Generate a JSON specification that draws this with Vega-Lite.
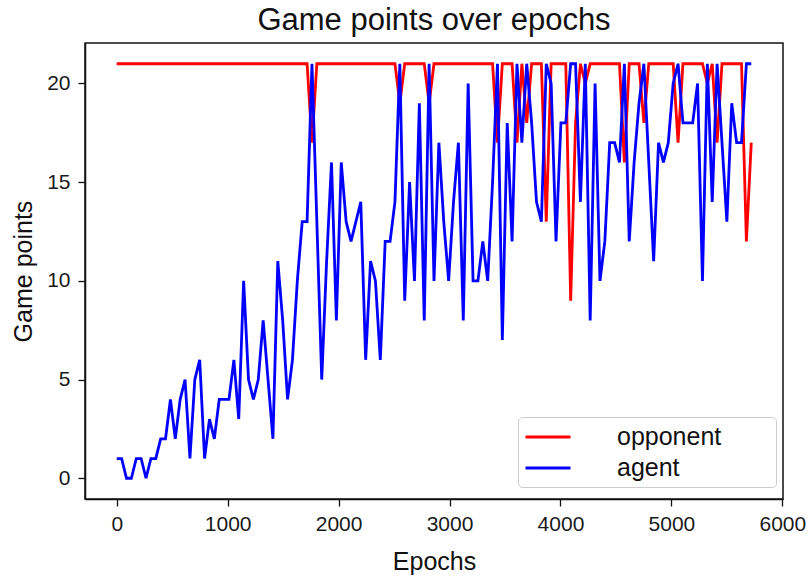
{
  "$schema": "https://vega.github.io/schema/vega-lite/v6.json",
  "width": 698,
  "height": 456,
  "autosize": {"type": "none"},
  "padding": {"left": 85, "top": 43, "right": 26, "bottom": 79},
  "background": "white",
  "title": {
    "text": "Game points over epochs",
    "fontSize": 31,
    "fontWeight": "normal",
    "font": "Liberation Sans",
    "color": "#111111",
    "anchor": "middle",
    "offset": 6
  },
  "data": {
    "values": [
      {"epoch": 0, "opponent": 21, "agent": 1},
      {"epoch": 44, "opponent": 21, "agent": 1},
      {"epoch": 88, "opponent": 21, "agent": 0},
      {"epoch": 132, "opponent": 21, "agent": 0},
      {"epoch": 176, "opponent": 21, "agent": 1},
      {"epoch": 220, "opponent": 21, "agent": 1},
      {"epoch": 264, "opponent": 21, "agent": 0},
      {"epoch": 308, "opponent": 21, "agent": 1},
      {"epoch": 352, "opponent": 21, "agent": 1},
      {"epoch": 396, "opponent": 21, "agent": 2},
      {"epoch": 440, "opponent": 21, "agent": 2},
      {"epoch": 484, "opponent": 21, "agent": 4},
      {"epoch": 528, "opponent": 21, "agent": 2},
      {"epoch": 572, "opponent": 21, "agent": 4},
      {"epoch": 616, "opponent": 21, "agent": 5},
      {"epoch": 660, "opponent": 21, "agent": 1},
      {"epoch": 704, "opponent": 21, "agent": 5},
      {"epoch": 748, "opponent": 21, "agent": 6},
      {"epoch": 792, "opponent": 21, "agent": 1},
      {"epoch": 836, "opponent": 21, "agent": 3},
      {"epoch": 880, "opponent": 21, "agent": 2},
      {"epoch": 924, "opponent": 21, "agent": 4},
      {"epoch": 968, "opponent": 21, "agent": 4},
      {"epoch": 1012, "opponent": 21, "agent": 4},
      {"epoch": 1056, "opponent": 21, "agent": 6},
      {"epoch": 1100, "opponent": 21, "agent": 3},
      {"epoch": 1144, "opponent": 21, "agent": 10},
      {"epoch": 1188, "opponent": 21, "agent": 5},
      {"epoch": 1232, "opponent": 21, "agent": 4},
      {"epoch": 1276, "opponent": 21, "agent": 5},
      {"epoch": 1320, "opponent": 21, "agent": 8},
      {"epoch": 1364, "opponent": 21, "agent": 5},
      {"epoch": 1408, "opponent": 21, "agent": 2},
      {"epoch": 1452, "opponent": 21, "agent": 11},
      {"epoch": 1496, "opponent": 21, "agent": 8},
      {"epoch": 1540, "opponent": 21, "agent": 4},
      {"epoch": 1584, "opponent": 21, "agent": 6},
      {"epoch": 1628, "opponent": 21, "agent": 10},
      {"epoch": 1672, "opponent": 21, "agent": 13},
      {"epoch": 1716, "opponent": 21, "agent": 13},
      {"epoch": 1760, "opponent": 17, "agent": 21},
      {"epoch": 1804, "opponent": 21, "agent": 13},
      {"epoch": 1848, "opponent": 21, "agent": 5},
      {"epoch": 1892, "opponent": 21, "agent": 11},
      {"epoch": 1936, "opponent": 21, "agent": 16},
      {"epoch": 1980, "opponent": 21, "agent": 8},
      {"epoch": 2024, "opponent": 21, "agent": 16},
      {"epoch": 2068, "opponent": 21, "agent": 13},
      {"epoch": 2112, "opponent": 21, "agent": 12},
      {"epoch": 2156, "opponent": 21, "agent": 13},
      {"epoch": 2200, "opponent": 21, "agent": 14},
      {"epoch": 2244, "opponent": 21, "agent": 6},
      {"epoch": 2288, "opponent": 21, "agent": 11},
      {"epoch": 2332, "opponent": 21, "agent": 10},
      {"epoch": 2376, "opponent": 21, "agent": 6},
      {"epoch": 2420, "opponent": 21, "agent": 12},
      {"epoch": 2464, "opponent": 21, "agent": 12},
      {"epoch": 2508, "opponent": 21, "agent": 14},
      {"epoch": 2552, "opponent": 19, "agent": 21},
      {"epoch": 2596, "opponent": 21, "agent": 9},
      {"epoch": 2640, "opponent": 21, "agent": 15},
      {"epoch": 2684, "opponent": 21, "agent": 10},
      {"epoch": 2728, "opponent": 21, "agent": 19},
      {"epoch": 2772, "opponent": 21, "agent": 8},
      {"epoch": 2816, "opponent": 19, "agent": 21},
      {"epoch": 2860, "opponent": 21, "agent": 10},
      {"epoch": 2904, "opponent": 21, "agent": 17},
      {"epoch": 2948, "opponent": 21, "agent": 13},
      {"epoch": 2992, "opponent": 21, "agent": 10},
      {"epoch": 3036, "opponent": 21, "agent": 14},
      {"epoch": 3080, "opponent": 21, "agent": 17},
      {"epoch": 3124, "opponent": 21, "agent": 8},
      {"epoch": 3168, "opponent": 21, "agent": 20},
      {"epoch": 3212, "opponent": 21, "agent": 10},
      {"epoch": 3256, "opponent": 21, "agent": 10},
      {"epoch": 3300, "opponent": 21, "agent": 12},
      {"epoch": 3344, "opponent": 21, "agent": 10},
      {"epoch": 3388, "opponent": 21, "agent": 15},
      {"epoch": 3432, "opponent": 17, "agent": 21},
      {"epoch": 3476, "opponent": 21, "agent": 7},
      {"epoch": 3520, "opponent": 21, "agent": 18},
      {"epoch": 3564, "opponent": 21, "agent": 12},
      {"epoch": 3608, "opponent": 17, "agent": 21},
      {"epoch": 3652, "opponent": 21, "agent": 17},
      {"epoch": 3696, "opponent": 18, "agent": 21},
      {"epoch": 3740, "opponent": 21, "agent": 18},
      {"epoch": 3784, "opponent": 21, "agent": 14},
      {"epoch": 3828, "opponent": 21, "agent": 13},
      {"epoch": 3872, "opponent": 13, "agent": 21},
      {"epoch": 3916, "opponent": 21, "agent": 20},
      {"epoch": 3960, "opponent": 21, "agent": 12},
      {"epoch": 4004, "opponent": 21, "agent": 18},
      {"epoch": 4048, "opponent": 21, "agent": 18},
      {"epoch": 4092, "opponent": 9, "agent": 21},
      {"epoch": 4136, "opponent": 18, "agent": 21},
      {"epoch": 4180, "opponent": 21, "agent": 14},
      {"epoch": 4224, "opponent": 20, "agent": 21},
      {"epoch": 4268, "opponent": 21, "agent": 8},
      {"epoch": 4312, "opponent": 21, "agent": 20},
      {"epoch": 4356, "opponent": 21, "agent": 10},
      {"epoch": 4400, "opponent": 21, "agent": 12},
      {"epoch": 4444, "opponent": 21, "agent": 17},
      {"epoch": 4488, "opponent": 21, "agent": 17},
      {"epoch": 4532, "opponent": 21, "agent": 16},
      {"epoch": 4576, "opponent": 16, "agent": 21},
      {"epoch": 4620, "opponent": 21, "agent": 12},
      {"epoch": 4664, "opponent": 21, "agent": 16},
      {"epoch": 4708, "opponent": 21, "agent": 19},
      {"epoch": 4752, "opponent": 18, "agent": 21},
      {"epoch": 4796, "opponent": 21, "agent": 16},
      {"epoch": 4840, "opponent": 21, "agent": 11},
      {"epoch": 4884, "opponent": 21, "agent": 17},
      {"epoch": 4928, "opponent": 21, "agent": 16},
      {"epoch": 4972, "opponent": 21, "agent": 17},
      {"epoch": 5016, "opponent": 21, "agent": 20},
      {"epoch": 5060, "opponent": 17, "agent": 21},
      {"epoch": 5104, "opponent": 21, "agent": 18},
      {"epoch": 5148, "opponent": 21, "agent": 18},
      {"epoch": 5192, "opponent": 21, "agent": 18},
      {"epoch": 5236, "opponent": 21, "agent": 20},
      {"epoch": 5280, "opponent": 21, "agent": 10},
      {"epoch": 5324, "opponent": 20, "agent": 21},
      {"epoch": 5368, "opponent": 21, "agent": 14},
      {"epoch": 5412, "opponent": 17, "agent": 21},
      {"epoch": 5456, "opponent": 21, "agent": 17},
      {"epoch": 5500, "opponent": 21, "agent": 13},
      {"epoch": 5544, "opponent": 21, "agent": 19},
      {"epoch": 5588, "opponent": 21, "agent": 17},
      {"epoch": 5632, "opponent": 21, "agent": 17},
      {"epoch": 5676, "opponent": 12, "agent": 21},
      {"epoch": 5720, "opponent": 17, "agent": 21}
    ]
  },
  "transform": [
    {"fold": ["opponent", "agent"], "as": ["series", "points"]}
  ],
  "mark": {"type": "line", "strokeWidth": 2.8, "clip": true},
  "encoding": {
    "x": {
      "field": "epoch",
      "type": "quantitative",
      "scale": {"domain": [-286, 6006], "nice": false, "zero": false},
      "axis": {
        "title": "Epochs",
        "values": [0, 1000, 2000, 3000, 4000, 5000, 6000],
        "format": "d",
        "labelPadding": 7,
        "titlePadding": 15
      }
    },
    "y": {
      "field": "points",
      "type": "quantitative",
      "scale": {"domain": [-1.05, 22.05], "nice": false, "zero": false},
      "axis": {
        "title": "Game points",
        "values": [0, 5, 10, 15, 20],
        "labelPadding": 8,
        "titlePadding": 10
      }
    },
    "color": {
      "field": "series",
      "type": "nominal",
      "scale": {"domain": ["opponent", "agent"], "range": ["#ff0000", "#0000ff"]},
      "legend": {
        "title": null,
        "orient": "none",
        "legendX": 433,
        "legendY": 374,
        "direction": "vertical",
        "padding": 6,
        "fillColor": "white",
        "strokeColor": "#cccccc",
        "cornerRadius": 4,
        "symbolType": "M-1.8,0H1.8",
        "symbolSize": 625,
        "symbolStrokeWidth": 3,
        "symbolOffset": 10,
        "labelOffset": 55,
        "labelFontSize": 25,
        "labelFont": "Liberation Sans",
        "labelColor": "#111111",
        "labelExpr": "datum.label + '       \u200b'",
        "rowPadding": 4
      }
    }
  },
  "config": {
    "font": "Liberation Sans",
    "view": {"stroke": "#111111", "strokeWidth": 1.5},
    "axis": {
      "grid": false,
      "domainColor": "#111111",
      "domainWidth": 1.5,
      "tickColor": "#111111",
      "tickWidth": 1.3,
      "tickSize": 7,
      "labelFontSize": 21,
      "labelColor": "#1a1a1a",
      "labelFont": "Liberation Sans",
      "titleFont": "Liberation Sans",
      "titleFontSize": 25,
      "titleFontWeight": "normal",
      "titleColor": "#111111",
      "labelFlush": false,
      "labelOverlap": false
    }
  }
}
